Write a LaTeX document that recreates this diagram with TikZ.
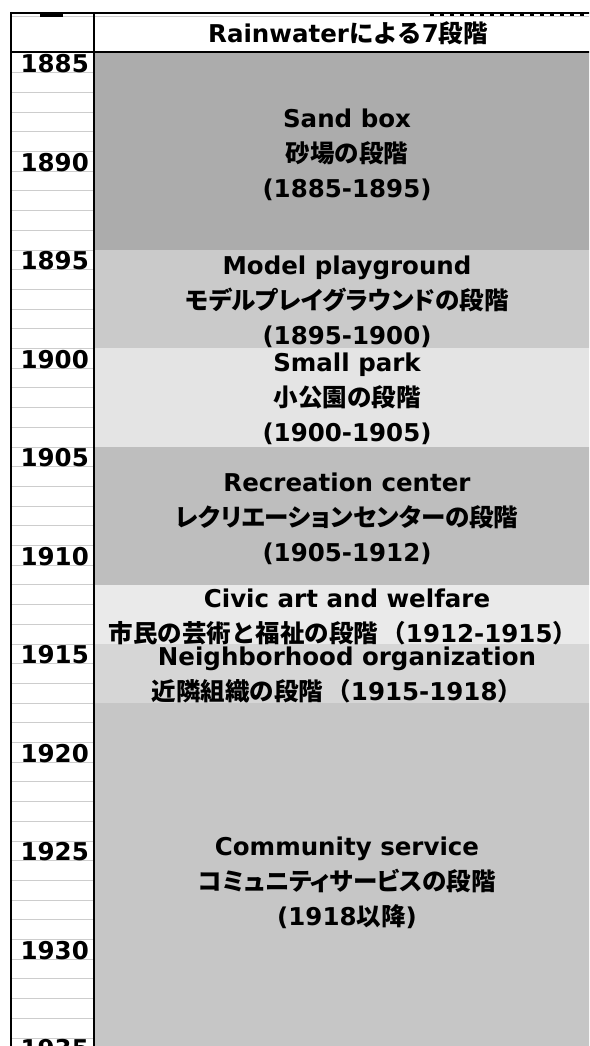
\documentclass[tikz,border=0pt]{standalone}
\usepackage{fontspec}
\setmainfont{DejaVu Sans}
\newfontfamily\jp{Noto Sans CJK JP}
\newfontfamily\jpp{Noto Sans CJK JP}[RawFeature=+palt]
\newcommand\J[1]{{\jp #1}}
\newcommand\JP[1]{{\jpp #1}}
\definecolor{gridgray}{RGB}{205,205,205}
\definecolor{cSand}{RGB}{172,172,172}
\definecolor{cModel}{RGB}{202,202,202}
\definecolor{cSmall}{RGB}{228,228,228}
\definecolor{cRec}{RGB}{190,190,190}
\definecolor{cCivic}{RGB}{234,234,234}
\definecolor{cNeigh}{RGB}{214,214,214}
\definecolor{cComm}{RGB}{198,198,198}
\begin{document}
\begin{tikzpicture}[x=1pt,y=-1pt,
  lbl/.style={font=\fontsize{24.5}{35}\selectfont\bfseries, align=center, inner sep=0pt},
  yr/.style={font=\fontsize{24.5}{24.5}\selectfont\bfseries, anchor=base east, inner sep=0pt},
  gridln/.style={draw=gridgray, line width=1pt},
  frameln/.style={draw=black, line width=2pt}]
\useasboundingbox (0,0) rectangle (589,1046);
\clip (0,0) rectangle (589,1046);
\fill[white] (0,0) rectangle (589,1046);
% stage fills
\fill[cSand]  (94,53)  rectangle (610,250);
\fill[cModel] (94,250) rectangle (610,348);
\fill[cSmall] (94,348) rectangle (610,447);
\fill[cRec]   (94,447) rectangle (610,585);
\fill[cCivic] (94,585) rectangle (610,644);
\fill[cNeigh] (94,644) rectangle (610,703);
\fill[cComm]  (94,703) rectangle (610,1060);
% year grid
\foreach \k in {1,...,50} \draw[gridln] (12,{53+\k*19.7}) -- (93,{53+\k*19.7});
\draw[gridln] (12,17) -- (589,17);
% year labels
\foreach \k/\y in {0/1885,5/1890,10/1895,15/1900,20/1905,25/1910,30/1915,35/1920,40/1925,45/1930,50/1935}
  \node[yr] (y\y) at (89,{53+(\k+1)*19.7}) {\y};
% frame
\draw[frameln] (11,13) -- (600,13);
\draw[frameln] (11,52) -- (600,52);
\draw[frameln] (11,12) -- (11,1060);
\draw[draw=black, line width=1.5pt] (94,13) -- (94,1060);
% cut-off fragments from the row above
\draw[line width=2.5pt] (40,15.5) -- (63,15.5);
\draw[line width=2pt, dash pattern=on 4pt off 6pt] (430,15.5) -- (589,15.5);
% texts
\node[lbl] (head) at (348,33) {Rainwater\J{による}7\J{段階}};
\node[lbl] (sand) at (347,155) {Sand box\\\J{砂場の段階}\\(1885-1895)};
\node[lbl] (model) at (347,302) {Model playground\\\JP{モデルプレイグラウンドの段階}\\(1895-1900)};
\node[lbl] (small) at (347,399) {Small park\\\J{小公園の段階}\\(1900-1905)};
\node[lbl] (rec) at (347,519) {Recreation center\\\JP{レクリエーションセンターの段階}\\(1905-1912)};
\node[lbl] (civic) at (347,617) {Civic art and welfare\\\J{市民の芸術と福祉の段階\hspace{3pt}（}1912-1915\J{）}\hspace*{8pt}};
\node[lbl] (neigh) at (347,675) {Neighborhood organization\\\J{近隣組織の段階\hspace{3pt}（}1915-1918\J{）}\hspace*{20pt}};
\node[lbl] (comm) at (347,883) {Community service\\\JP{コミュニティサービスの段階}\\(1918\J{以降})};
\end{tikzpicture}
\end{document}
